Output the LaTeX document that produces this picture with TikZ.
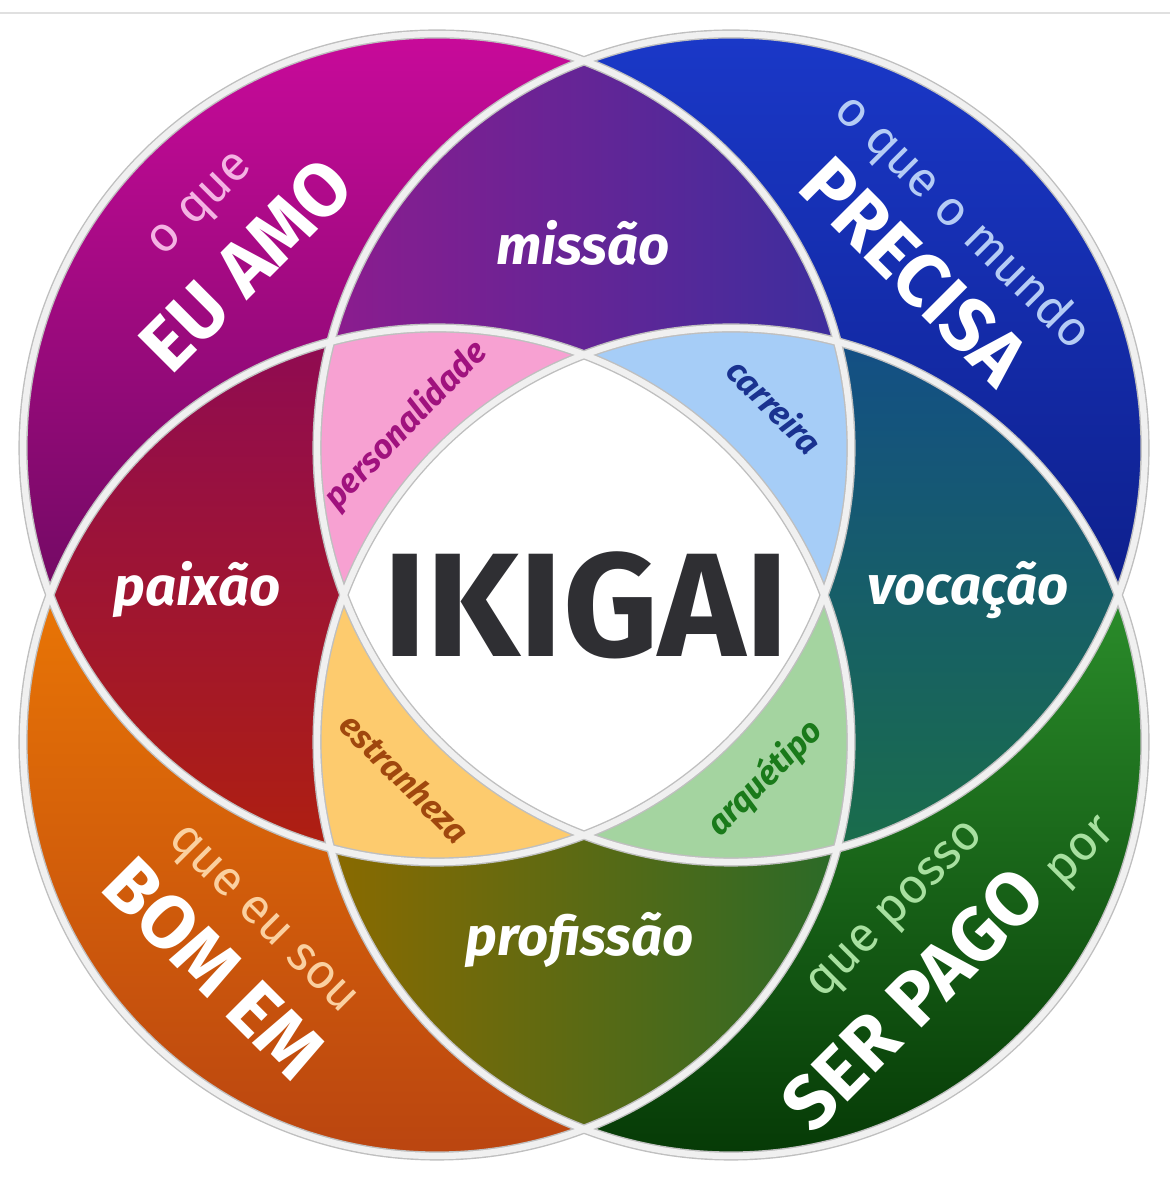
\documentclass[tikz,border=0pt]{standalone}
\usepackage{fontspec}
\setmainfont{Fira Sans}
\usepackage{xcolor}

\definecolor{amoA}{HTML}{C80A9A}
\definecolor{amoB}{HTML}{820A70}
\definecolor{amoC}{HTML}{4A0A4A}
\definecolor{mundoA}{HTML}{1A38C8}
\definecolor{mundoB}{HTML}{0F249E}
\definecolor{mundoC}{HTML}{081470}
\definecolor{bomA}{HTML}{FF8C00}
\definecolor{bomB}{HTML}{EE7A05}
\definecolor{bomC}{HTML}{BA4510}
\definecolor{pagoA}{HTML}{3CB43C}
\definecolor{pagoB}{HTML}{1E8A1E}
\definecolor{pagoC}{HTML}{063A06}
\definecolor{missA}{HTML}{8C1C8E}
\definecolor{missB}{HTML}{3C2E9E}
\definecolor{paixA}{HTML}{8E0A55}
\definecolor{paixB}{HTML}{B0200E}
\definecolor{vocA}{HTML}{134E88}
\definecolor{vocB}{HTML}{1A6E48}
\definecolor{profA}{HTML}{8A6A00}
\definecolor{profB}{HTML}{2A6A28}
\definecolor{persF}{HTML}{F7A1D2}
\definecolor{carrF}{HTML}{A6CDF7}
\definecolor{estrF}{HTML}{FDCB6E}
\definecolor{arqF}{HTML}{A4D4A0}
\definecolor{persT}{HTML}{A0127E}
\definecolor{carrT}{HTML}{1A3290}
\definecolor{estrT}{HTML}{A0480E}
\definecolor{arqT}{HTML}{1A7A1A}
\definecolor{amoT}{HTML}{F4B3E3}
\definecolor{mundoT}{HTML}{B5CCF5}
\definecolor{bomT}{HTML}{FAD0A0}
\definecolor{pagoT}{HTML}{A8E0A0}
\definecolor{ikigai}{HTML}{2F2F33}

\newcommand{\ringrad}{4.14}

\tikzset{
ring/.style={draw=black!25,line width=2.6pt},
ringlight/.style={draw=black!6,line width=1.8pt},
big/.style={text=white,inner sep=0pt,font=\fontsize{21.5}{23}\selectfont\bfseries},
thin/.style={inner sep=0pt,font=\fontsize{14}{16}\selectfont},
pairlabel/.style={text=white,inner sep=0pt,font=\fontsize{15.5}{17}\selectfont\bfseries\itshape},
triplelabel/.style={inner sep=0pt,font=\fontsize{9.5}{11}\selectfont\bfseries\itshape}
}

\begin{document}
\begin{tikzpicture}
\useasboundingbox (0,0) rectangle (11.70,11.99);
\draw[black!12,line width=0.5pt] (0,11.86) -- (11.70,11.86);
\coordinate (tl) at (4.37,7.51);
\coordinate (tr) at (7.31,7.51);
\coordinate (bl) at (4.37,4.57);
\coordinate (br) at (7.31,4.57);

% the four rings
\shade[top color=amoA,middle color=amoB,bottom color=amoC] (tl) circle (\ringrad);
\shade[top color=mundoA,middle color=mundoB,bottom color=mundoC] (tr) circle (\ringrad);
\shade[top color=bomA,middle color=bomB,bottom color=bomC] (bl) circle (\ringrad);
\shade[top color=pagoA,middle color=pagoB,bottom color=pagoC] (br) circle (\ringrad);

% two at a time
\begin{scope}
\clip (tl) circle (\ringrad);
\clip (tr) circle (\ringrad);
\shade[left color=missA,right color=missB] (3.3,8.2) rectangle (8.4,11.5);
\end{scope}
\begin{scope}
\clip (tl) circle (\ringrad);
\clip (bl) circle (\ringrad);
\shade[top color=paixA,bottom color=paixB] (0.4,3.3) rectangle (3.5,8.8);
\end{scope}
\begin{scope}
\clip (tr) circle (\ringrad);
\clip (br) circle (\ringrad);
\shade[top color=vocA,bottom color=vocB] (8.2,3.3) rectangle (11.3,8.8);
\end{scope}
\begin{scope}
\clip (bl) circle (\ringrad);
\clip (br) circle (\ringrad);
\shade[left color=profA,right color=profB] (3.3,0.5) rectangle (8.4,3.8);
\end{scope}

% three at a time, then all four
\foreach \a/\b/\c/\col in {tl/tr/bl/persF,tl/tr/br/carrF,tl/bl/br/estrF,tr/bl/br/arqF}{
\begin{scope}
\clip (\a) circle (\ringrad);
\clip (\b) circle (\ringrad);
\fill[\col] (\c) circle (\ringrad);
\end{scope}
}
\begin{scope}
\clip (tl) circle (\ringrad);
\clip (tr) circle (\ringrad);
\clip (bl) circle (\ringrad);
\fill[white] (br) circle (\ringrad);
\end{scope}

\foreach \c in {tl,tr,bl,br} \draw[ring] (\c) circle (\ringrad);
\foreach \c in {tl,tr,bl,br} \draw[ringlight] (\c) circle (\ringrad);

% outer labels
\node[thin,text=amoT,rotate=45] (oque) at (2.03,9.92) {o que};
\node[big,rotate=45] (euamo) at (2.46,9.34) {EU AMO};
\node[thin,text=mundoT,rotate=-45] (oquemundo) at (9.62,9.76) {o que o mundo};
\node[big,rotate=-45] (precisa) at (9.14,9.28) {PRECISA};
\node[thin,text=bomT,rotate=-45] (queeusou) at (2.60,2.77) {que eu sou};
\node[big,rotate=-45] (bomem) at (2.14,2.31) {BOM EM};
\node[thin,text=pagoT,rotate=45] (queposso) at (8.98,2.87) {que posso};
\node[big,rotate=45] (serpago) at (9.50,2.30) {SER PAGO {\fontsize{14}{16}\selectfont\mdseries\color{pagoT} por}};

% overlaps
\node[pairlabel] (missao) at (5.83,9.56) {missão};
\node[pairlabel] (paixao) at (1.97,6.09) {paixão};
\node[pairlabel] (vocacao) at (9.68,6.09) {vocação};
\node[pairlabel] (profissao) at (5.80,2.59) {profissão};
\node[triplelabel,text=persT,rotate=46] (personalidade) at (4.06,7.74) {personalidade};
\node[triplelabel,text=carrT,rotate=-45] (carreira) at (7.75,7.93) {carreira};
\node[triplelabel,text=estrT,rotate=-45] (estranheza) at (4.05,4.21) {estranheza};
\node[triplelabel,text=arqT,rotate=45] (arquetipo) at (7.65,4.21) {arquétipo};
\node[inner sep=0pt,text=ikigai,font=\fontsize{42}{44}\selectfont\bfseries] (centro) at (5.86,5.94) {IKIGAI};
\end{tikzpicture}
\end{document}
